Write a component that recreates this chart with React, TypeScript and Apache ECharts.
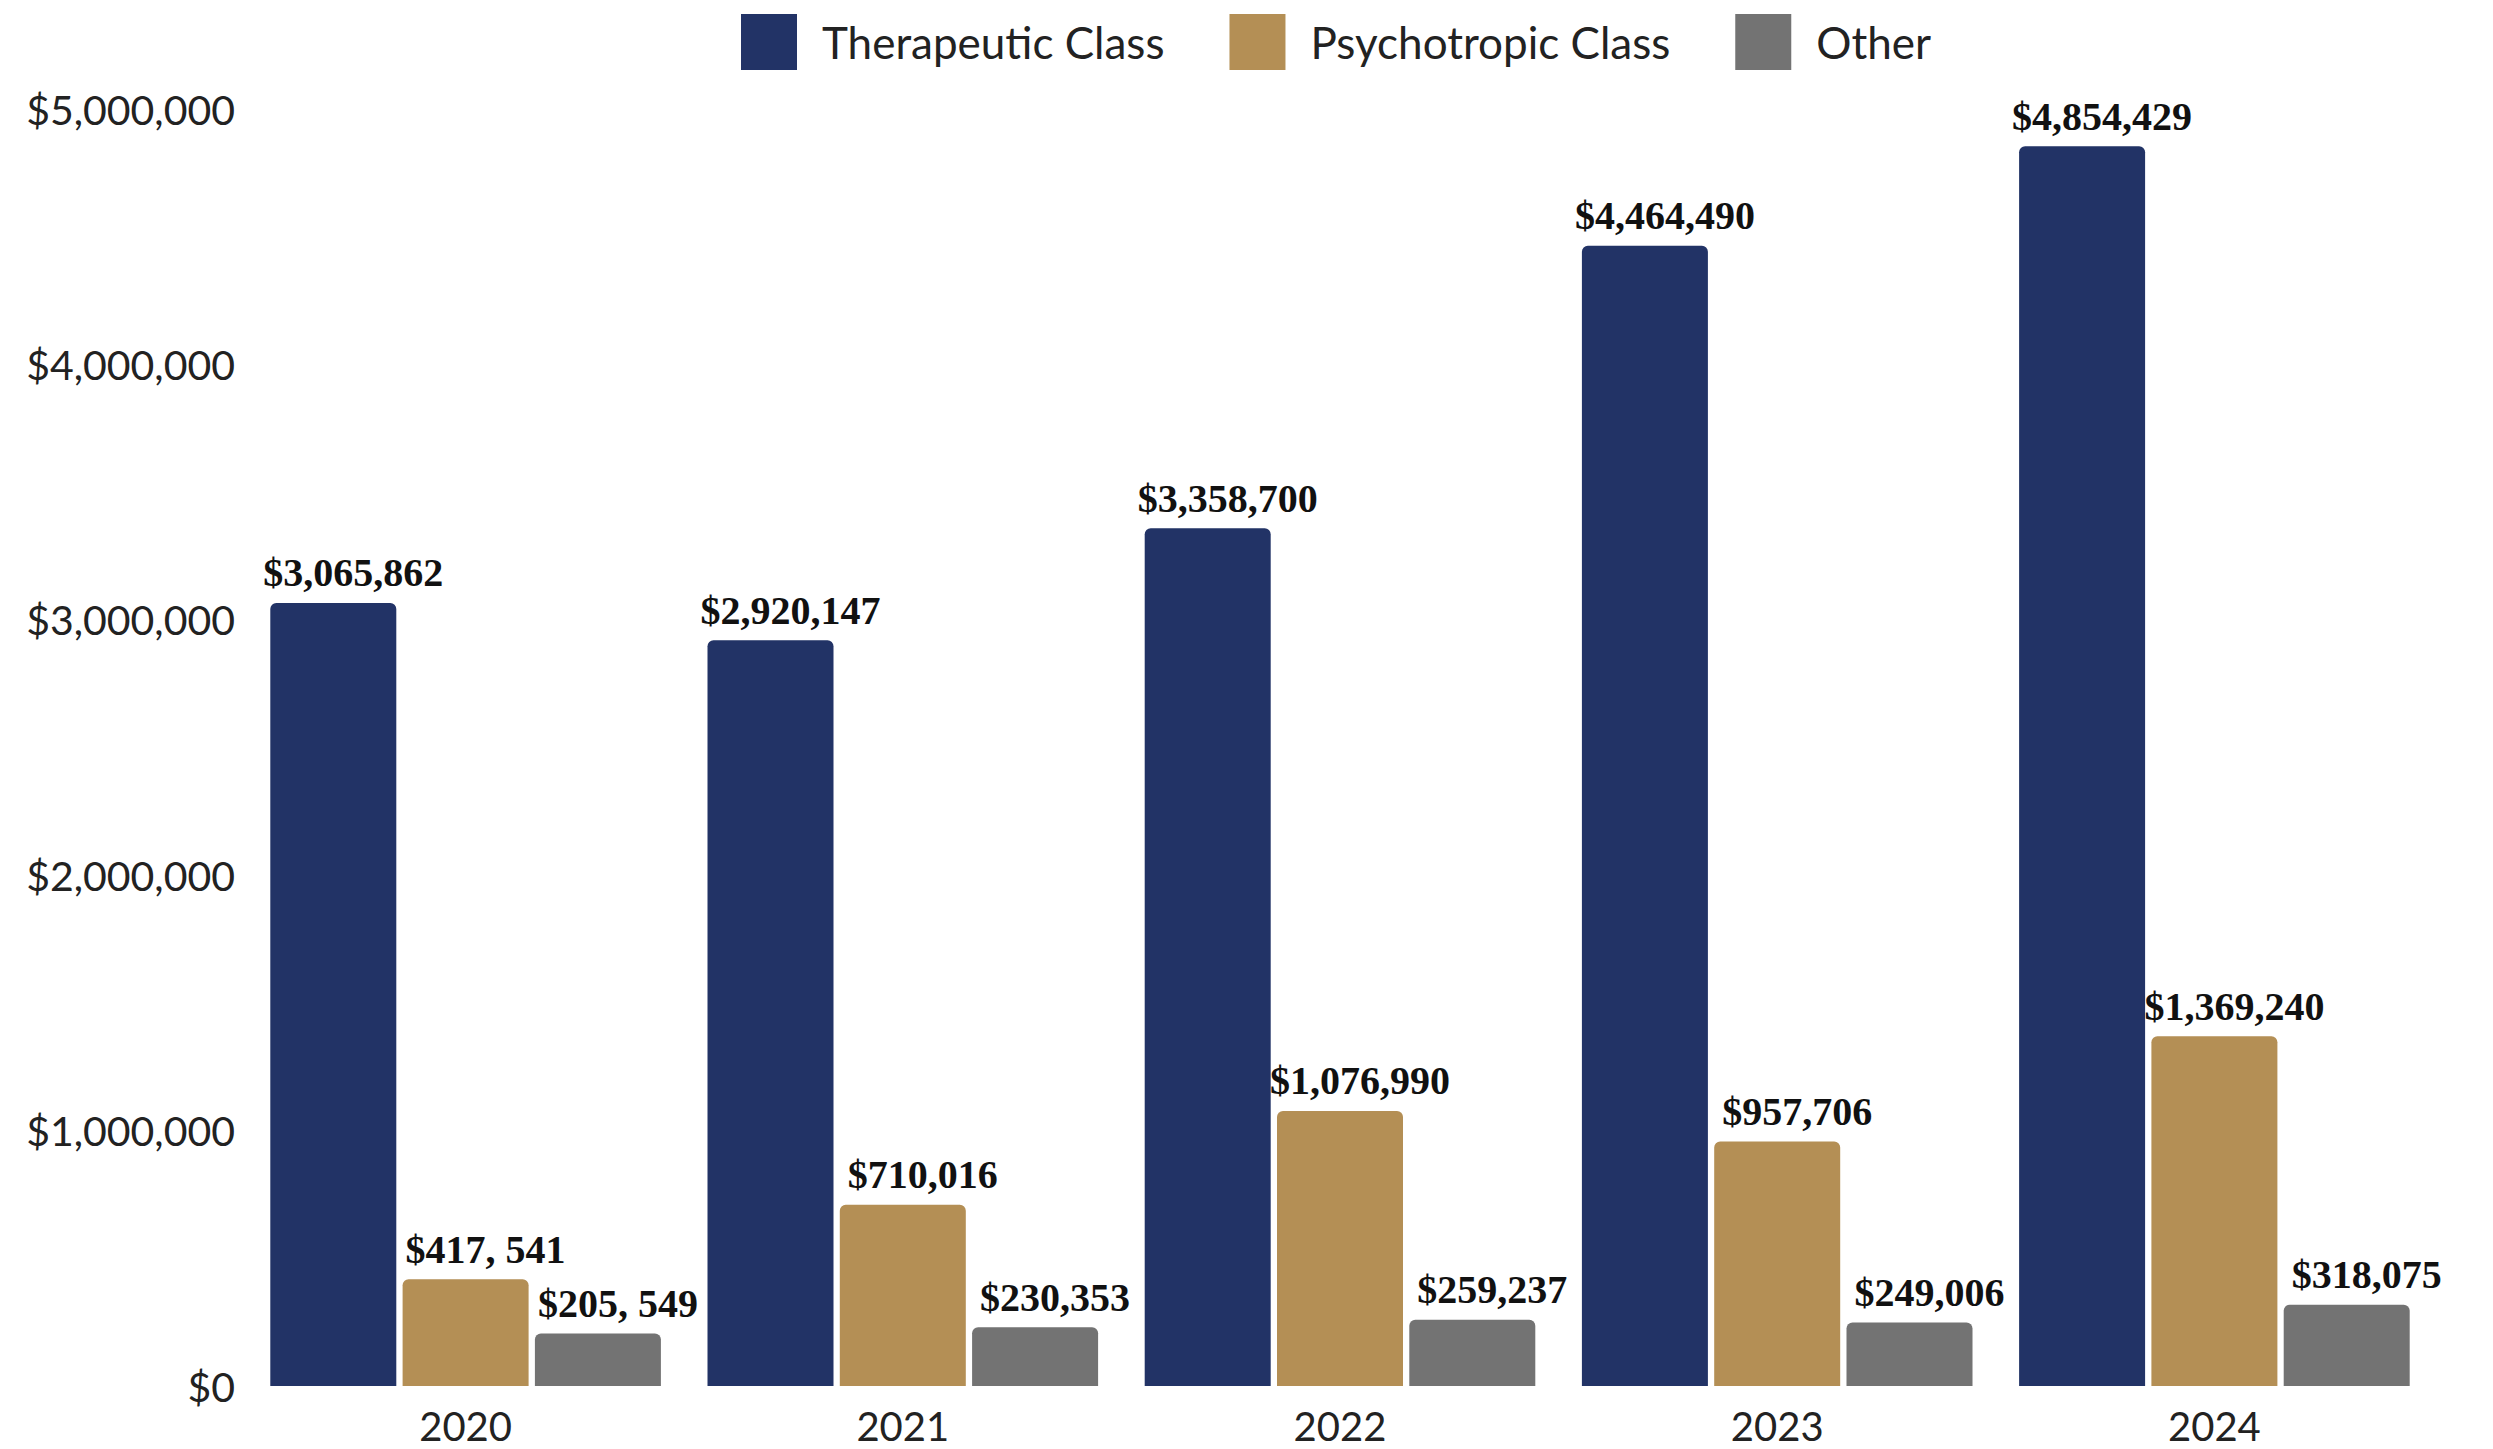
import React, { useEffect, useRef } from "react";
import * as echarts from "echarts";

const years = ["2020", "2021", "2022", "2023", "2024"];
const therapeutic = [3065862, 2920147, 3358700, 4464490, 4854429];
const psychotropic = [417541, 710016, 1076990, 957706, 1369240];
const other = [205549, 230353, 259237, 249006, 318075];
const therapeuticLabels = ["$3,065,862", "$2,920,147", "$3,358,700", "$4,464,490", "$4,854,429"];
const psychotropicLabels = ["$417, 541", "$710,016", "$1,076,990", "$957,706", "$1,369,240"];
const otherLabels = ["$205, 549", "$230,353", "$259,237", "$249,006", "$318,075"];
const yTicks = [0, 1000000, 2000000, 3000000, 4000000, 5000000];

const SANS = "Lato, 'Open Sans', sans-serif";
const SERIF = "'Liberation Serif', serif";

function fmtMoney(v: number) {
  return "$" + v.toLocaleString("en-US");
}

export default function App() {
  const ref = useRef<HTMLDivElement>(null);
  useEffect(() => {
    if (!ref.current) return;
    const chart = echarts.init(ref.current, null, { renderer: "svg" });
    const mk = (name: string, data: number[], labels: string[], color: string) => ({
      name,
      type: "bar",
      data,
      barWidth: 126,
      barGap: "5%",
      itemStyle: { color, borderRadius: [6, 6, 0, 0] },
      label: {
        show: true,
        position: "top",
        distance: 10,
        offset: [20, 0],
        formatter: (p: any) => labels[p.dataIndex],
        fontFamily: SERIF,
        fontWeight: "bold",
        fontSize: 40,
        color: "#111",
      },
    });
    chart.setOption({
      animation: false,
      backgroundColor: "#fff",
      legend: {
        top: 9,
        left: 736,
        icon: "rect",
        itemWidth: 56,
        itemHeight: 56,
        itemGap: 65,
        textStyle: { fontFamily: SANS, fontSize: 44, color: "#222", padding: [0, 0, 0, 20] },
        data: ["Therapeutic Class", "Psychotropic Class", "Other"],
      },
      grid: { left: 247, right: 60, top: 109, bottom: 1449 - 1386 },
      xAxis: {
        type: "category",
        data: years,
        axisLine: { show: false },
        axisTick: { show: false },
        axisLabel: { fontFamily: SANS, fontSize: 40, color: "#222", margin: 20 },
      },
      yAxis: {
        type: "value",
        min: yTicks[0],
        max: yTicks[yTicks.length - 1],
        interval: yTicks[1] - yTicks[0],
        axisLine: { show: false },
        axisTick: { show: false },
        splitLine: { show: false },
        axisLabel: {
          fontFamily: SANS,
          fontSize: 41,
          color: "#222",
          margin: 12,
          formatter: (v: number) => fmtMoney(v),
        },
      },
      series: [
        mk("Therapeutic Class", therapeutic, therapeuticLabels, "#223366"),
        mk("Psychotropic Class", psychotropic, psychotropicLabels, "#B48F55"),
        mk("Other", other, otherLabels, "#737373"),
      ],
    });
    return () => chart.dispose();
  }, []);
  return (
    <div
      ref={ref}
      style={{ position: "absolute", left: 0, top: 0, width: 2493, height: 1449 }}
    />
  );
}
